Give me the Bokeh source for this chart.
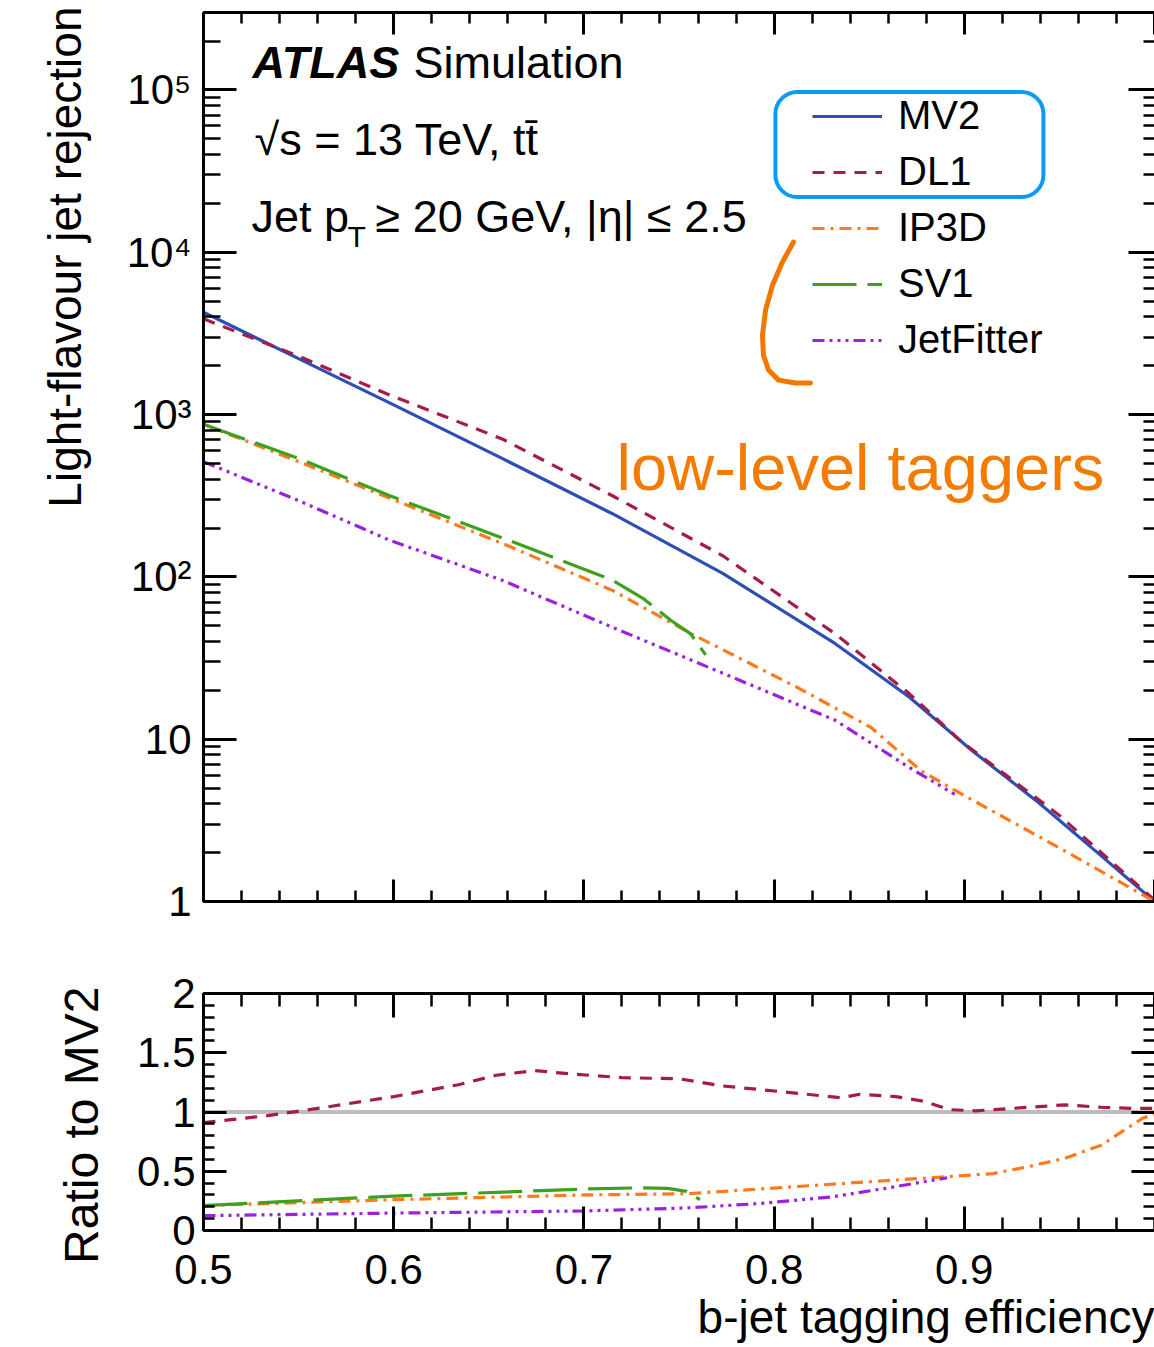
from bokeh.plotting import figure
from bokeh.layouts import column
from bokeh.models import (FixedTicker, LinearAxis, LogAxis, Range1d, Legend, LegendItem,
                          Label, Span, BoxAnnotation, Title)
from bokeh.embed import file_html
from bokeh.resources import INLINE

FONT = "Liberation Sans"

# ---------------- data ----------------
mv2_eff = [0.50, 0.55, 0.60, 0.657, 0.715, 0.773, 0.832, 0.871, 0.904, 0.939, 0.97, 1.00]
mv2_rej = [4266, 2213, 1148, 537, 245, 105, 38.9, 18.2, 8.51, 4.07, 2.0, 1.0]

dl1_eff = [0.50, 0.55, 0.598, 0.657, 0.715, 0.773, 0.832, 0.871, 0.898, 0.95, 1.00]
dl1_rej = [3890, 2291, 1318, 708, 316, 135, 44.7, 19.1, 9.77, 3.39, 1.02]

ip3d_eff = [0.50, 0.55, 0.598, 0.657, 0.715, 0.756, 0.812, 0.851, 0.877, 0.898, 0.95, 1.00]
ip3d_rej = [871, 513, 305, 161, 82.6, 44.9, 20.9, 11.8, 6.43, 4.63, 2.14, 1.0]

sv1_eff = [0.50, 0.55, 0.598, 0.657, 0.715, 0.731, 0.746, 0.756, 0.764]
sv1_rej = [871, 537, 316, 174, 95.5, 73.8, 53.7, 44.7, 33.1]

jf_eff = [0.50, 0.55, 0.598, 0.657, 0.715, 0.773, 0.832, 0.871, 0.895]
jf_rej = [513, 295, 168, 95.3, 48.9, 25.5, 13.1, 6.70, 4.57]

# ratio to MV2
dl1_r_eff = [0.50, 0.534, 0.564, 0.60, 0.634, 0.654, 0.674, 0.694, 0.72, 0.75, 0.773,
             0.811, 0.835, 0.845, 0.864, 0.879, 0.892, 0.906, 0.934, 0.953, 0.972, 0.99, 1.0]
dl1_ratio = [0.91, 0.97, 1.04, 1.13, 1.23, 1.31, 1.35, 1.32, 1.29, 1.28, 1.22,
             1.16, 1.12, 1.15, 1.13, 1.09, 1.02, 1.01, 1.04, 1.06, 1.04, 1.03, 1.03]

ip3d_r_eff = [0.50, 0.60, 0.70, 0.754, 0.811, 0.858, 0.887, 0.915, 0.934, 0.953, 0.972, 0.994, 1.0]
ip3d_ratio = [0.21, 0.26, 0.30, 0.31, 0.37, 0.42, 0.45, 0.48, 0.54, 0.61, 0.72, 0.95, 0.98]

sv1_r_eff = [0.50, 0.60, 0.70, 0.73, 0.744, 0.754, 0.761]
sv1_ratio = [0.21, 0.29, 0.35, 0.36, 0.355, 0.33, 0.26]

jf_r_eff = [0.50, 0.60, 0.70, 0.754, 0.792, 0.83, 0.858, 0.891]
jf_ratio = [0.125, 0.147, 0.165, 0.19, 0.227, 0.283, 0.354, 0.445]

names = ["MV2", "DL1", "IP3D", "SV1", "JetFitter"]
colors = ["#2B4FB4", "#A51C4A", "#FF7A1C", "#3DA11F", "#9A22DD"]
dashes = ["solid", "12 9", "12 6 3 6", "44 11", "12 5 3 5 3 5 3 5"]

x_major = [0.5, 0.6, 0.7, 0.8, 0.9, 1.0]
x_minor = [round(0.5 + 0.02 * i, 2) for i in range(26)]
y_major = [1, 10, 100, 1000, 10000, 100000]
y_minor = [m * 10 ** e for e in range(0, 6) for m in range(2, 10)]
y_labels = {1: "1", 10: "10", 100: "10²", 1000: "10³", 10000: "10⁴", 100000: "10⁵"}
r_major = [0, 0.5, 1, 1.5, 2]
r_minor = [round(0.1 * i, 1) for i in range(21)]
r_labels = {0: "0", 0.5: "0.5", 1: "1", 1.5: "1.5", 2: "2"}


def style_axis(ax, tin, tmin, labels=True, fsize="42px", standoff=12):
    ax.axis_line_width = 3
    ax.axis_line_color = "black"
    ax.major_tick_in = tin
    ax.major_tick_out = 0
    ax.minor_tick_in = tmin
    ax.minor_tick_out = 0
    ax.major_tick_line_width = 3
    ax.minor_tick_line_width = 2.5
    ax.major_label_text_font = FONT
    ax.major_label_text_color = "black"
    ax.major_label_standoff = standoff
    if labels:
        ax.major_label_text_font_size = fsize
    else:
        ax.major_label_text_font_size = "1px"
        ax.major_label_text_alpha = 0
        ax.major_label_standoff = 0


# ---------------- main panel ----------------
p = figure(width=1154, height=930, x_range=Range1d(0.5, 1.0), y_range=Range1d(1, 3.0e5),
           y_axis_type="log", output_backend="svg", toolbar_location=None,
           min_border_left=203, min_border_right=0, min_border_top=12, min_border_bottom=29)
p.outline_line_alpha = 0
p.grid.visible = False

xt = FixedTicker(ticks=x_major, minor_ticks=x_minor)
yt = FixedTicker(ticks=y_major, minor_ticks=y_minor)

p.xaxis.ticker = xt
style_axis(p.xaxis[0], 22, 11, labels=False)
p.yaxis.ticker = yt
style_axis(p.yaxis[0], 33, 17, standoff=12)
p.yaxis[0].major_label_overrides = y_labels

top_ax = LinearAxis(ticker=xt)
style_axis(top_ax, 22, 11, labels=False)
p.add_layout(top_ax, "above")
right_ax = LogAxis(ticker=yt)
style_axis(right_ax, 26, 11, labels=False)
right_ax.axis_line_alpha = 0
p.add_layout(right_ax, "right")

p.add_layout(Title(text="Light-flavour jet rejection", align="right", text_font=FONT,
                   text_font_size="46px", text_font_style="normal", text_color="black",
                   standoff=66, offset=-6), "left")

rend = []
for eff, rej, c, d in [(mv2_eff, mv2_rej, colors[0], dashes[0]),
                       (dl1_eff, dl1_rej, colors[1], dashes[1]),
                       (ip3d_eff, ip3d_rej, colors[2], dashes[2]),
                       (sv1_eff, sv1_rej, colors[3], dashes[3]),
                       (jf_eff, jf_rej, colors[4], dashes[4])]:
    rend.append(p.line(eff, rej, line_color=c, line_dash=d, line_width=3.2))

legend = Legend(items=[LegendItem(label=n, renderers=[r]) for n, r in zip(names, rend)],
                location=(609, 539), orientation="vertical", glyph_width=70, glyph_height=20,
                label_standoff=16, spacing=11, label_height=42, padding=0, margin=0,
                border_line_alpha=0, background_fill_alpha=0, label_text_font=FONT,
                label_text_font_size="40px", label_text_color="black")
p.add_layout(legend)

# highlight box around MV2 / DL1 and bracket around low-level taggers
p.add_layout(BoxAnnotation(left=0.8007, right=0.9416, top=97200, bottom=21900,
                           fill_alpha=0, line_color="#0A9BF5", line_alpha=1.0,
                           line_width=4, border_radius=22))
bracket_x = [0.8102, 0.8044, 0.7992, 0.7955, 0.7939, 0.7944, 0.7971, 0.8023, 0.8113, 0.8191]
bracket_y = [11560, 8710, 6280, 4400, 3090, 2320, 1880, 1630, 1563, 1563]
p.line(bracket_x, bracket_y, line_color="#F07800", line_width=5, line_join="round", line_cap="round")

def lab(x, y, text, size="45px", style="normal", color="black"):
    p.add_layout(Label(x=x, y=y, text=text, text_font=FONT, text_font_size=size,
                       text_font_style=style, text_color=color, text_baseline="alphabetic"))

lab(0.5258, 146800, "ATLAS", style="bold italic")
lab(0.6104, 146800, "Simulation")
lab(0.5268, 49200, "√s = 13 TeV, tt\u0304")
lab(0.5252, 16720, "Jet p")
lab(0.5757, 12590, "T", size="30px")
lab(0.5904, 16720, "≥ 20 GeV, |η| ≤ 2.5")
lab(0.7172, 474, "low-level taggers", size="65px", color="#F27B00")

# ---------------- ratio panel ----------------
r = figure(width=1154, height=417, x_range=Range1d(0.5, 1.0), y_range=Range1d(0, 2),
           output_backend="svg", toolbar_location=None,
           min_border_left=203, min_border_right=0, min_border_top=63, min_border_bottom=117)
r.outline_line_alpha = 0
r.grid.visible = False

xt2 = FixedTicker(ticks=[0.5, 0.6, 0.7, 0.8, 0.9], minor_ticks=x_minor)
xt2_top = FixedTicker(ticks=x_major, minor_ticks=x_minor)
rt = FixedTicker(ticks=r_major, minor_ticks=r_minor)
r.xaxis.ticker = xt2
style_axis(r.xaxis[0], 24, 13, standoff=24)
r.yaxis.ticker = rt
style_axis(r.yaxis[0], 23, 11, standoff=8)
r.yaxis[0].major_label_overrides = r_labels

top2 = LinearAxis(ticker=xt2_top)
style_axis(top2, 24, 13, labels=False)
r.add_layout(top2, "above")
right2 = LinearAxis(ticker=rt)
style_axis(right2, 23, 11, labels=False)
right2.axis_line_alpha = 0
r.add_layout(right2, "right")

r.add_layout(Title(text="Ratio to MV2", align="right", text_font=FONT,
                   text_font_size="48px", text_font_style="normal", text_color="black",
                   standoff=54, offset=-7), "left")
r.add_layout(Title(text="b-jet tagging efficiency", align="right", text_font=FONT,
                   text_font_size="46px", text_font_style="normal", text_color="black",
                   standoff=5), "below")

r.add_layout(Span(location=1, dimension="width", line_color="#BDBDBD", line_width=4,
                  level="underlay"))
r.line(dl1_r_eff, dl1_ratio, line_color=colors[1], line_dash=dashes[1], line_width=3.2)
r.line(ip3d_r_eff, ip3d_ratio, line_color=colors[2], line_dash=dashes[2], line_width=3.2)
r.line(sv1_r_eff, sv1_ratio, line_color=colors[3], line_dash=dashes[3], line_width=3.2)
r.line(jf_r_eff, jf_ratio, line_color=colors[4], line_dash=dashes[4], line_width=3.2)

layout = column(p, r, spacing=0)
open("out.html", "w").write(file_html(layout, INLINE))
